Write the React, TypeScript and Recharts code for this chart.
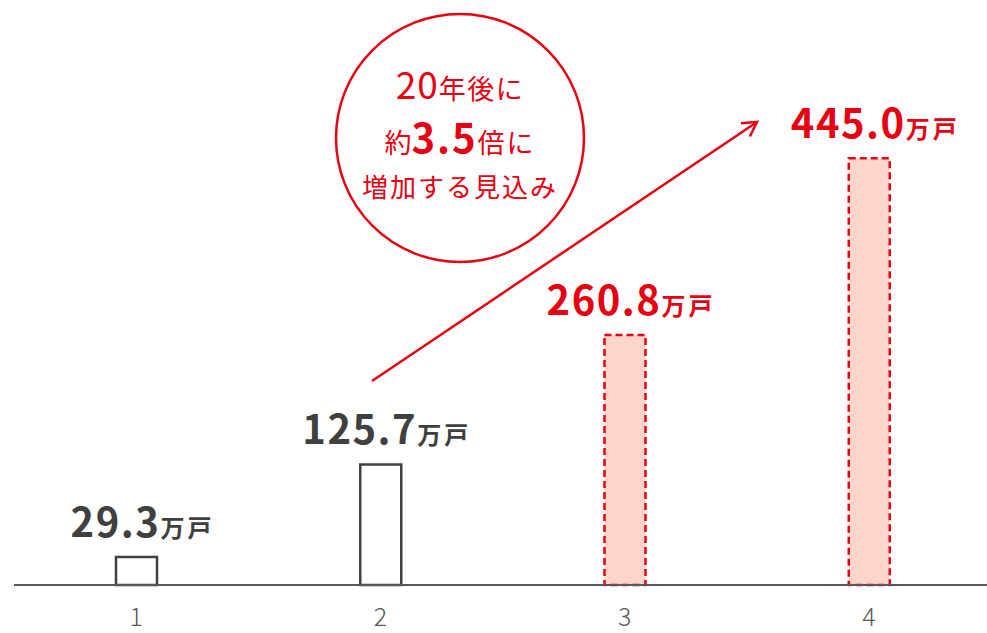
import { BarChart, Bar, XAxis, YAxis, Cell, LabelList } from "recharts";

// household counts (万戸) by period, the last two are projections
const categories = ["1", "2", "3", "4"];
const households = [29.3, 125.7, 260.8, 445.0];
const projected = [false, false, true, true];
const unit = "万戸";

const RED = "#e60012";
const DARK = "#404040";
const GRAY = "#595959";
const PINK = "#fdd5cb";
const FONT = "'Noto Sans CJK JP', 'Noto Sans', sans-serif";

const data = categories.map((name, i) => ({
  name,
  value: households[i],
  projected: projected[i],
}));

function ValueLabel(props: any) {
  const { x, y, width, value } = props;
  const idx = props.index ?? households.indexOf(value);
  const color = projected[idx] ? RED : DARK;
  return (
    <text
      x={x + width / 2 + 6}
      y={y - 20}
      textAnchor="middle"
      fill={color}
      fontFamily={FONT}
      fontWeight={700}
    >
      <tspan fontSize={40} letterSpacing={1.5}>
        {Number(value).toFixed(1)}
      </tspan>
      <tspan fontSize={24} letterSpacing={3}>
        {unit}
      </tspan>
    </text>
  );
}

function Callout() {
  return (
    <svg
      width={987}
      height={633}
      style={{ position: "absolute", left: 0, top: 0, pointerEvents: "none" }}
    >
      <defs>
        <marker
          id="head"
          markerUnits="userSpaceOnUse"
          markerWidth={20}
          markerHeight={20}
          refX={17}
          refY={10}
          orient="auto"
        >
          <path d="M3,2 L17,10 L3,18" fill="none" stroke={RED} strokeWidth={2.5} />
        </marker>
      </defs>
      <circle cx={460} cy={138} r={124} fill="none" stroke={RED} strokeWidth={2.5} />
      <g fill={RED} fontFamily={FONT} textAnchor="middle">
        <text x={460} y={99}>
          <tspan fontSize={37} letterSpacing={1}>20</tspan>
          <tspan fontSize={27} letterSpacing={1.5}>年後に</tspan>
        </text>
        <text x={460} y={153}>
          <tspan fontSize={27}>約</tspan>
          <tspan fontSize={40} fontWeight={700} letterSpacing={2}>3.5</tspan>
          <tspan fontSize={27} letterSpacing={2}>倍に</tspan>
        </text>
        <text x={460} y={197} fontSize={26} letterSpacing={2}>
          増加する見込み
        </text>
      </g>
      <line
        x1={372}
        y1={381}
        x2={757}
        y2={122}
        stroke={RED}
        strokeWidth={2.5}
        markerEnd="url(#head)"
      />
    </svg>
  );
}

export default function App() {
  return (
    <div
      style={{
        position: "absolute",
        left: 0,
        top: 0,
        width: 987,
        height: 633,
        overflow: "hidden",
        background: "#fff",
      }}
    >
      <BarChart
        width={991}
        height={633}
        data={data}
        margin={{ top: 0, right: 0, left: 14, bottom: 0 }}
      >
        <XAxis
          dataKey="name"
          height={48}
          axisLine={{ stroke: GRAY, strokeWidth: 2 }}
          tickLine={false}
          tickSize={0}
          tickMargin={23}
          tick={{ fill: GRAY, fontSize: 25, fontFamily: FONT, fontWeight: 300 }}
        />
        <YAxis hide domain={[0, 610]} />
        <Bar dataKey="value" barSize={41} isAnimationActive={false}>
          {data.map((d, i) => (
            <Cell
              key={`cell-${i}`}
              fill={d.projected ? PINK : "#ffffff"}
              stroke={d.projected ? RED : DARK}
              strokeWidth={2.5}
              strokeDasharray={d.projected ? "7 4" : undefined}
            />
          ))}
          <LabelList dataKey="value" content={<ValueLabel />} />
        </Bar>
      </BarChart>
      <Callout />
    </div>
  );
}
